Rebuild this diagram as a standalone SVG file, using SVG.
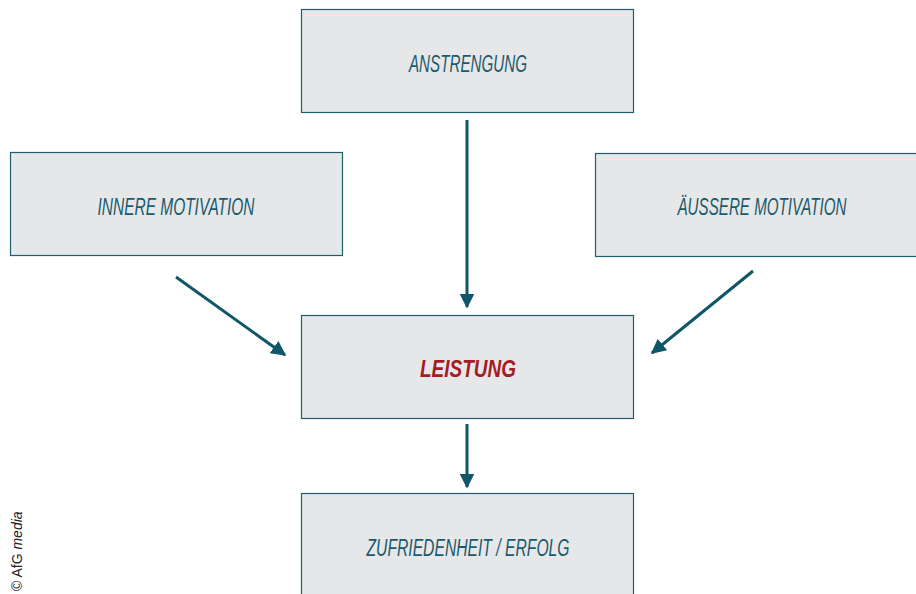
<svg xmlns="http://www.w3.org/2000/svg" width="916" height="594" viewBox="0 0 916 594">
<defs>
<style>
.box{fill:#e6e7e9;stroke:#1f5e70;stroke-width:1.2}
.lbl{font-family:"Liberation Sans",Arial,sans-serif;font-style:italic;font-size:23.5px;fill:#1a5a6c;text-anchor:middle}
.red{fill:#a51c24;font-weight:bold}
.con{stroke:#0f5669;stroke-width:3;fill:none}
.cr{font-family:"Liberation Sans",Arial,sans-serif;font-size:14px;fill:#222}
</style>
<marker id="ah" viewBox="0 0 10 10" refX="9" refY="5" markerWidth="5" markerHeight="5" orient="auto" markerUnits="strokeWidth">
<path d="M0,0 L10,5 L0,10 z" fill="#0f5669"/>
</marker>
</defs>
<rect width="916" height="594" fill="#ffffff"/>
<g id="anstrengung"><rect class="box" x="301.5" y="9.5" width="332" height="103"/><text class="lbl" x="468" y="71.5" textLength="118" lengthAdjust="spacingAndGlyphs">ANSTRENGUNG</text></g>
<g id="innere"><rect class="box" x="10.5" y="152.5" width="332" height="103"/><text class="lbl" x="176" y="214.5" textLength="157" lengthAdjust="spacingAndGlyphs">INNERE MOTIVATION</text></g>
<g id="aeussere"><rect class="box" x="595.5" y="153.5" width="330" height="103"/><text class="lbl" x="762" y="214.5" textLength="169" lengthAdjust="spacingAndGlyphs">ÄUSSERE MOTIVATION</text></g>
<g id="leistung"><rect class="box" x="301.5" y="315.5" width="332" height="103"/><text class="lbl red" x="468" y="377" textLength="96" lengthAdjust="spacingAndGlyphs">LEISTUNG</text></g>
<g id="zufriedenheit"><rect class="box" x="301.5" y="493.5" width="332" height="110"/><text class="lbl" x="468" y="555.5" textLength="203" lengthAdjust="spacingAndGlyphs">ZUFRIEDENHEIT / ERFOLG</text></g>
<g id="connectors">
<line class="con" x1="467" y1="120" x2="467" y2="307" marker-end="url(#ah)"/>
<line class="con" x1="176" y1="277" x2="285" y2="355" marker-end="url(#ah)"/>
<line class="con" x1="753" y1="271" x2="652" y2="353" marker-end="url(#ah)"/>
<line class="con" x1="467" y1="424" x2="467" y2="487" marker-end="url(#ah)"/>
</g>
<text class="cr" transform="translate(22,591) rotate(-90)">© AfG <tspan font-style="italic">media</tspan></text>
</svg>
